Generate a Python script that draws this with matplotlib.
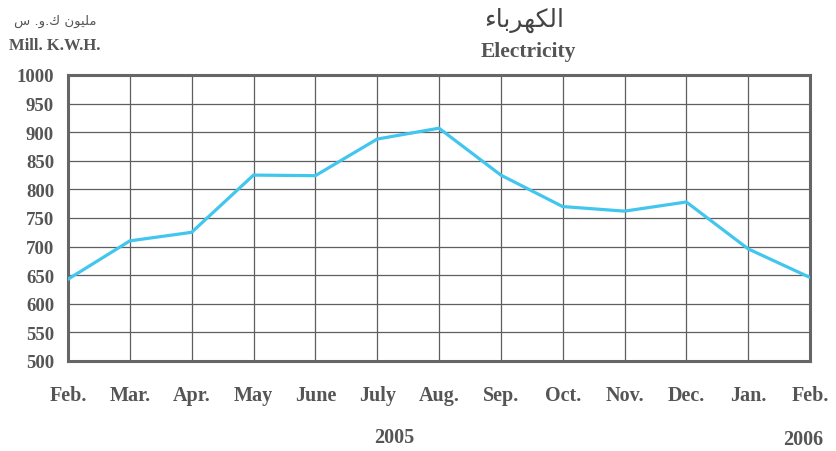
import matplotlib

matplotlib.use('Agg')
import matplotlib.pyplot as plt

months = ['Feb.', 'Mar.', 'Apr.', 'May', 'June', 'July', 'Aug.',
          'Sep.', 'Oct.', 'Nov.', 'Dec.', 'Jan.', 'Feb.']
electricity = [643, 710, 725, 825, 824, 888, 907, 825, 770, 762, 778, 696, 646]
yticks = list(range(500, 1001, 50))

# Arabic written in presentation forms, visual order (no shaping in matplotlib)
title_ar = '\uFE80\uFE8E\uFE91\uFEAE\uFEEC\uFEDC\uFEDF\uFE8D'
unit_ar = '\uFEB1 .\uFEED.\uFED9 \uFEE5\uFEEE\uFEF4\uFEE0\uFEE3'

grey = '#555555'
plt.rcParams['font.family'] = ['Liberation Serif', 'DejaVu Sans']

fig = plt.figure(figsize=(8.36, 4.52), dpi=100)
ax = fig.add_axes([68 / 836, 1 - 362 / 452, 742 / 836, 286 / 452])

x = list(range(len(months)))
ax.plot(x, electricity, color='#42c6ee', linewidth=2.3, solid_joinstyle='miter', zorder=3)

ax.set_xlim(0, len(months) - 1)
ax.set_ylim(500, 1000)
ax.set_xticks(x)
ax.set_xticklabels(months, fontsize=14.5, fontweight='bold', color=grey)
ax.set_yticks(yticks)
ax.set_yticklabels([str(v) for v in yticks], fontsize=13.5, fontweight='bold', color=grey)
ax.tick_params(length=0)
ax.tick_params(axis='y', pad=10)
ax.tick_params(axis='x', pad=17)
ax.grid(True, color='#5e5e5e', linewidth=0.9)
for s in ax.spines.values():
    s.set_color('#666666')
    s.set_linewidth(2.2)

fig.text(524 / 836, 1 - 20 / 452, title_ar, family='DejaVu Sans', fontsize=18,
         color='#444444', ha='center', va='center')
fig.text(528 / 836, 1 - 52 / 452, 'Electricity', fontsize=15.5, fontweight='bold',
         color=grey, ha='center', va='center')
fig.text(55 / 836, 1 - 21 / 452, unit_ar, family='DejaVu Sans', fontsize=9.5,
         color=grey, ha='center', va='center')
fig.text(55 / 836, 1 - 46 / 452, 'Mill. K.W.H.', fontsize=12, fontweight='bold',
         color=grey, ha='center', va='center')
fig.text(394 / 836, 1 - 438 / 452, '2005', fontsize=14.5, fontweight='bold',
         color=grey, ha='center', va='center')
fig.text(803 / 836, 1 - 440 / 452, '2006', fontsize=14.5, fontweight='bold',
         color=grey, ha='center', va='center')

fig.savefig('out.png', dpi=100)
